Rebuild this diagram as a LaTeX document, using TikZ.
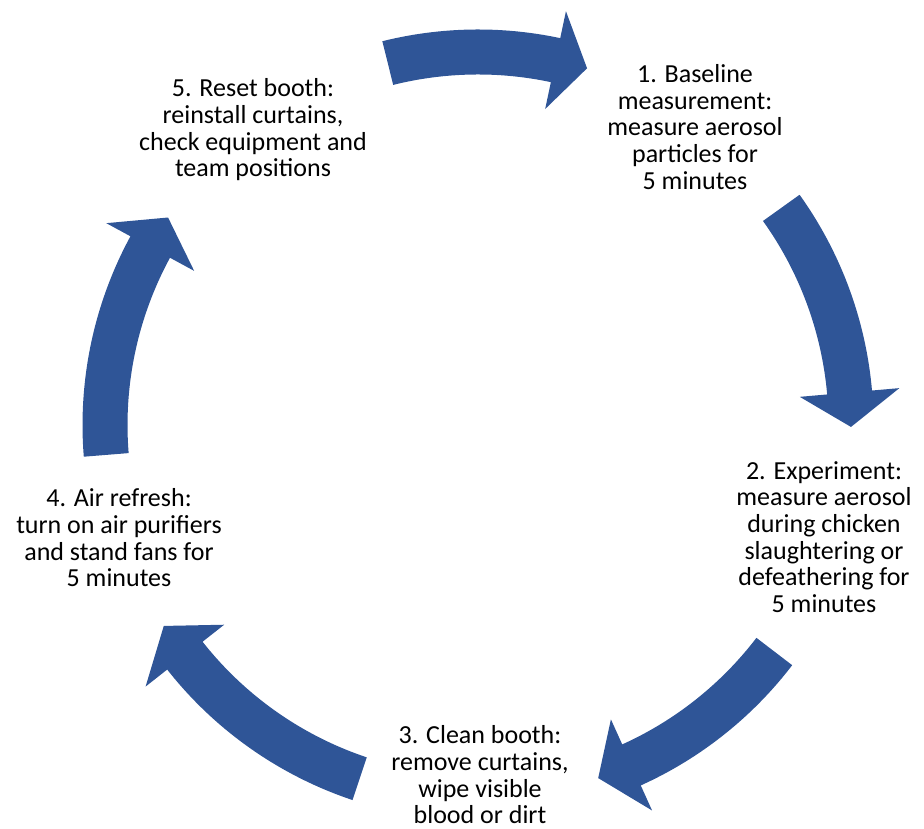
\documentclass[tikz,border=0pt]{standalone}
\usepackage{fontspec}
\setmainfont{Carlito}
\usetikzlibrary{calc}
\definecolor{arrowblue}{HTML}{2F5597}
\tikzset{
  steptext/.style={align=center, inner sep=0pt, font=\fontsize{26pt}{26.7pt}\selectfont, text=black},
  arrowfill/.style={fill=arrowblue}
}
% #1 tail angle, #2 head base angle, #3 tip angle
\newcommand{\cyclearrow}[3]{%
  \fill[arrowfill] ($(C)+(#1:395.5pt)$) arc[start angle=#1, end angle=#2, radius=395.5pt]
    -- ($(C)+(#2:423pt)$) -- ($(C)+(#3:373pt)$) -- ($(C)+(#2:323pt)$)
    -- ($(C)+(#2:350.5pt)$) arc[start angle=#2, end angle=#1, radius=350.5pt] -- cycle;}
\begin{document}
\begin{tikzpicture}[x=1pt,y=1pt]
\useasboundingbox (0,0) rectangle (924,829);
\coordinate (C) at (478,404);
\cyclearrow{104}{78}{73}
\cyclearrow{35.6}{5}{-0.3}
\cyclearrow{-37.4}{-65.7}{-71.2}
\cyclearrow{-108.5}{-141.8}{-147.4}
\cyclearrow{184.6}{151.5}{146.2}
\node[steptext] (t1) at (695,702) {1. Baseline\\measurement:\\measure aerosol\\particles for\\5 minutes};
\node[steptext] (t2) at (824,292) {2. Experiment:\\measure aerosol\\during chicken\\slaughtering or\\defeathering for\\5 minutes};
\node[steptext] (t3) at (480,54) {3. Clean booth:\\remove curtains,\\wipe visible\\blood or dirt};
\node[steptext] (t4) at (119,291) {4. Air refresh:\\turn on air purifiers\\and stand fans for\\5 minutes};
\node[steptext] (t5) at (253,699) {5. Reset booth:\\reinstall curtains,\\check equipment and\\team positions};
\end{tikzpicture}
\end{document}
